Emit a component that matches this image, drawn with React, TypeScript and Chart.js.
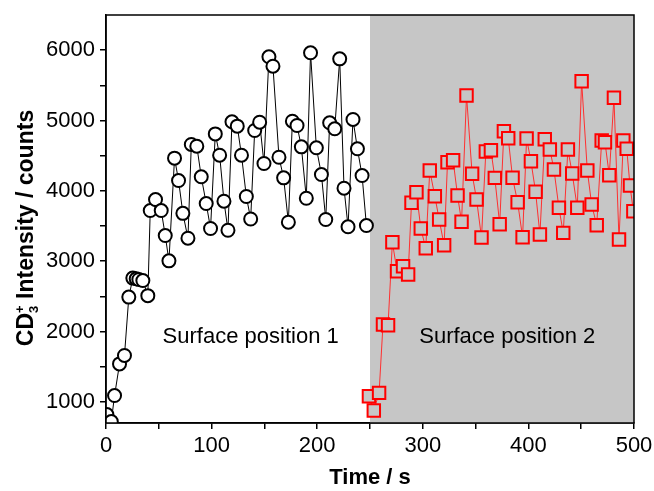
import React, { useEffect, useRef } from 'react';
import { Chart, registerables } from 'chart.js';
Chart.register(...registerables);

// Surface position 1 (black circles)
const time1 = [0.8, 5, 8.1, 12.8, 17.5, 21.6, 25.4, 28.6, 31.1, 34.9, 39.6, 41.9, 46.9, 52.3, 56.1, 59.6, 64.9, 68.7, 72.8, 77.6, 80.8, 86, 90.2, 94.9, 99, 103.5, 107.6, 111.7, 115.5, 119.3, 124.3, 128.3, 132.9, 137, 140.8, 145.5, 149.6, 154.3, 158.1, 163.8, 168.2, 172.7, 176.5, 180.9, 185, 189.7, 193.7, 199.2, 204, 208.1, 211.8, 216.6, 221.3, 225.4, 229.2, 233.9, 238.1, 242.5, 246.6];
const counts1 = [820, 720, 1090, 1540, 1660, 2490, 2760, 2750, 2740, 2725, 2510, 3720, 3877, 3720, 3365, 3005, 4465, 4147, 3680, 3327, 4660, 4635, 4200, 3820, 3465, 4810, 4507, 3853, 3440, 4982, 4920, 4507, 3920, 3600, 4858, 4976, 4389, 5906, 5772, 4478, 4185, 3554, 4990, 4929, 4626, 3895, 5963, 4612, 4232, 3593, 4968, 4882, 5877, 4038, 3489, 5015, 4598, 4218, 3507];

// Surface position 2 (red squares)
const time2 = [249, 253.6, 258.6, 262.3, 267.1, 271.2, 275.6, 281.3, 286.1, 289.3, 294, 298.1, 302.8, 306.6, 311.4, 315.5, 320.2, 323.4, 328.7, 332.9, 336.7, 341.4, 346.7, 350.9, 355.6, 359.7, 364.5, 368.2, 372.8, 376.8, 380.9, 385, 389.8, 394.5, 398.3, 402.4, 406.8, 410.9, 415.5, 420.3, 424.2, 428.9, 433, 437.4, 441.5, 446.3, 450.4, 455.8, 459.9, 464.7, 469.4, 472.5, 476.6, 481, 485.8, 489.9, 493.1, 496.2, 499.4];
const counts2 = [1080, 877, 1128, 2100, 2090, 3270, 2857, 2928, 2810, 3830, 3981, 3465, 3185, 4289, 3924, 3593, 3227, 4407, 4436, 3934, 3560, 5356, 4242, 3877, 3337, 4560, 4578, 4185, 3526, 4848, 4749, 4186, 3839, 3341, 4744, 4422, 3986, 3380, 4735, 4588, 4304, 3759, 3403, 4588, 4247, 3759, 5559, 4289, 3806, 3511, 4716, 4692, 4223, 5323, 3308, 4716, 4598, 4076, 3711];

const regionLabels = ['Surface position 1', 'Surface position 2'];
const regionLabelX = [137, 380];
const regionLabelY = 1930;
const shadeFrom = 250;
const shadeTo = 500;

const X_MIN = 0, X_MAX = 500;
const xTickValues = [0, 50, 100, 150, 200, 250, 300, 350, 400, 450, 500];
const xLabelValues = [0, 100, 200, 300, 400, 500];
const Y_MIN = 700, Y_MAX = 6500;
const yTickValues = [1000, 1500, 2000, 2500, 3000, 3500, 4000, 4500, 5000, 5500, 6000];
const yLabelValues = [1000, 2000, 3000, 4000, 5000, 6000];

const FONT = '"Liberation Sans", Arial, Helvetica, sans-serif';

const zeroPad = (s: any) => {
  s.paddingTop = 0;
  s.paddingBottom = 0;
  s.paddingLeft = 0;
  s.paddingRight = 0;
};

const decorPlugin = {
  id: 'decor',
  beforeDatasetsDraw(chart: any) {
    const { ctx, chartArea: a, scales } = chart;
    const x = scales.x;
    ctx.save();
    ctx.fillStyle = '#c6c6c6';
    const x0 = x.getPixelForValue(shadeFrom);
    const x1 = x.getPixelForValue(shadeTo);
    ctx.fillRect(x0, a.top, x1 - x0, a.bottom - a.top);
    ctx.restore();
  },
  afterDatasetsDraw(chart: any) {
    const { ctx, scales } = chart;
    ctx.save();
    ctx.fillStyle = '#000';
    ctx.font = `22px ${FONT}`;
    ctx.textAlign = 'center';
    ctx.textBaseline = 'middle';
    regionLabels.forEach((t, i) => {
      ctx.fillText(t, scales.x.getPixelForValue(regionLabelX[i]), scales.y.getPixelForValue(regionLabelY));
    });
    ctx.restore();
  },
  afterDraw(chart: any) {
    const { ctx, chartArea: a } = chart;
    ctx.save();
    ctx.strokeStyle = '#000';
    ctx.lineWidth = 1.5;
    ctx.strokeRect(a.left, a.top, a.right - a.left, a.bottom - a.top);

    // x title
    ctx.fillStyle = '#000';
    ctx.font = `bold 22px ${FONT}`;
    ctx.textAlign = 'center';
    ctx.textBaseline = 'middle';
    ctx.fillText('Time / s', (a.left + a.right) / 2, 478);

    // y title with sub/superscript
    const cx = 25;
    const cy = 228;
    ctx.translate(cx, cy);
    ctx.rotate(-Math.PI / 2);
    ctx.textAlign = 'left';
    ctx.textBaseline = 'alphabetic';
    const big = `bold 23px ${FONT}`;
    const small = `bold 13px ${FONT}`;
    ctx.font = big;
    const wCD = ctx.measureText('CD').width;
    const rest = ' Intensity / counts';
    const wRest = ctx.measureText(rest).width;
    ctx.font = small;
    const wSmall = Math.max(ctx.measureText('3').width, ctx.measureText('+').width);
    const total = wCD + wSmall + wRest;
    const start = -total / 2;
    const base = 8;
    ctx.font = big;
    ctx.fillText('CD', start, base);
    ctx.font = small;
    ctx.fillText('+', start + wCD, base - 9);
    ctx.fillText('3', start + wCD, base + 5);
    ctx.font = big;
    ctx.fillText(rest, start + wCD + wSmall, base);
    ctx.restore();
  },
};

export default function App() {
  const ref = useRef<HTMLCanvasElement>(null);
  useEffect(() => {
    if (!ref.current) return;
    const chart = new Chart(ref.current, {
      type: 'scatter',
      data: {
        datasets: [
          {
            data: time1.map((t, i) => ({ x: t, y: counts1[i] })),
            showLine: true,
            borderColor: '#000',
            borderWidth: 1,
            pointStyle: 'circle',
            pointRadius: 6.5,
            pointBorderWidth: 2,
            pointBorderColor: '#000',
            pointBackgroundColor: '#fff',
            clip: 0,
          } as any,
          {
            data: time2.map((t, i) => ({ x: t, y: counts2[i] })),
            showLine: true,
            borderColor: '#ff3030',
            borderWidth: 1,
            pointStyle: 'rect',
            pointRadius: 8.8,
            pointBorderWidth: 2,
            pointBorderColor: '#ff0000',
            pointBackgroundColor: '#c6c6c6',
            clip: 0,
          } as any,
        ],
      },
      options: {
        responsive: false,
        animation: false,
        layout: { padding: { left: 0, right: 20, top: 15, bottom: 0 } },
        plugins: { legend: { display: false }, tooltip: { enabled: false } },
        scales: {
          x: {
            type: 'linear',
            min: X_MIN,
            max: X_MAX,
            afterBuildTicks: (s: any) => { s.ticks = xTickValues.map((v) => ({ value: v })); },
            ticks: {
              autoSkip: false,
              maxRotation: 0,
              padding: 4,
              color: '#000',
              font: { family: FONT, size: 22 },
              callback: (v: any) => (xLabelValues.includes(Number(v)) ? String(v) : ''),
            },
            grid: { drawOnChartArea: false, drawTicks: true, tickLength: 6, color: '#000', lineWidth: 1.5 },
            border: { display: true, color: '#000', width: 1.5 },
            afterFit: (s: any) => { s.height = 68; zeroPad(s); },
          },
          y: {
            type: 'linear',
            min: Y_MIN,
            max: Y_MAX,
            afterBuildTicks: (s: any) => { s.ticks = yTickValues.map((v) => ({ value: v })); },
            ticks: {
              autoSkip: false,
              padding: 5,
              color: '#000',
              font: { family: FONT, size: 22 },
              callback: (v: any) => (yLabelValues.includes(Number(v)) ? String(v) : ''),
            },
            grid: { drawOnChartArea: false, drawTicks: true, tickLength: 6, color: '#000', lineWidth: 1.5 },
            border: { display: true, color: '#000', width: 1.5 },
            afterFit: (s: any) => { s.width = 106; zeroPad(s); },
          },
        },
      } as any,
      plugins: [decorPlugin],
    });
    return () => chart.destroy();
  }, []);
  return (
    <div style={{ position: 'absolute', left: 0, top: 0, width: 654, height: 491, background: '#fff' }}>
      <canvas ref={ref} width={654} height={491} style={{ display: 'block' }} />
    </div>
  );
}
